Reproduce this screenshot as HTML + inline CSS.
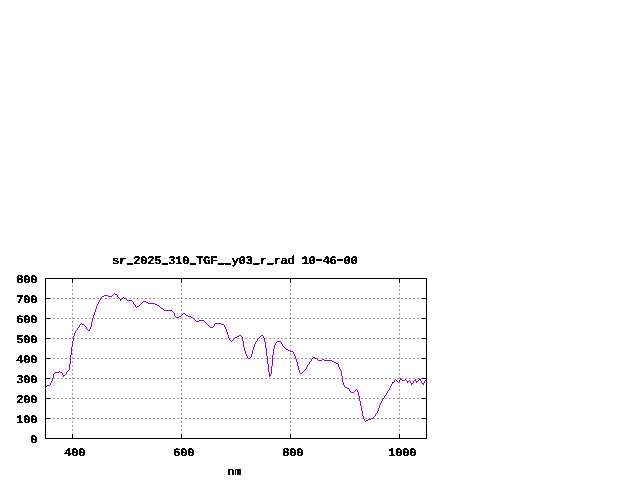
<!DOCTYPE html><html><head><meta charset="utf-8"><style>html,body{margin:0;padding:0;background:#fff;width:640px;height:480px;overflow:hidden}svg{display:block}text{font-family:"Liberation Mono",monospace;font-weight:bold;font-size:13px;letter-spacing:-0.800px;fill:#000;stroke:#000;stroke-width:0px;text-rendering:geometricPrecision}.u{stroke-width:1.7px;font-size:8.0px;letter-spacing:2.2px}.h{stroke-width:1.4px}</style></head><body>
<svg width="640" height="480" viewBox="0 0 640 480">
<rect width="640" height="480" fill="#fff"/>
<g stroke="#a0a0a0" stroke-width="1" stroke-dasharray="2 2" shape-rendering="crispEdges"><line x1="45" y1="298.5" x2="427" y2="298.5"/><line x1="45" y1="318.5" x2="427" y2="318.5"/><line x1="45" y1="338.5" x2="427" y2="338.5"/><line x1="45" y1="358.5" x2="427" y2="358.5"/><line x1="45" y1="378.5" x2="427" y2="378.5"/><line x1="45" y1="398.5" x2="427" y2="398.5"/><line x1="45" y1="418.5" x2="427" y2="418.5"/><line x1="72.5" y1="439" x2="72.5" y2="278"/><line x1="181.5" y1="439" x2="181.5" y2="278"/><line x1="290.5" y1="439" x2="290.5" y2="278"/><line x1="399.5" y1="439" x2="399.5" y2="278"/></g>
<g stroke="#000" stroke-width="1" shape-rendering="crispEdges"><rect x="45.5" y="278.5" width="381" height="160" fill="none"/><path d="M45 278.5H50M422 278.5H427"/><path d="M45 298.5H50M422 298.5H427"/><path d="M45 318.5H50M422 318.5H427"/><path d="M45 338.5H50M422 338.5H427"/><path d="M45 358.5H50M422 358.5H427"/><path d="M45 378.5H50M422 378.5H427"/><path d="M45 398.5H50M422 398.5H427"/><path d="M45 418.5H50M422 418.5H427"/><path d="M45 438.5H50M422 438.5H427"/><path d="M72.5 439V434M72.5 278V283"/><path d="M181.5 439V434M181.5 278V283"/><path d="M290.5 439V434M290.5 278V283"/><path d="M399.5 439V434M399.5 278V283"/></g>
<path d="M46 386h1v1h-1zM47 385h3v1h-3zM50 383h1v2h-1zM51 381h1v2h-1zM52 378h1v3h-1zM53 374h1v4h-1zM54 373h1v1h-1zM55 372h4v1h-4zM59 371h1v1h-1zM60 372h2v1h-2zM62 373h1v2h-1zM63 375h1v2h-1zM64 375h1v1h-1zM65 374h1v1h-1zM66 372h1v2h-1zM67 371h1v1h-1zM68 370h1v1h-1zM69 364h1v6h-1zM70 355h1v9h-1zM71 347h1v8h-1zM72 341h1v6h-1zM73 336h1v5h-1zM74 333h1v3h-1zM75 331h1v2h-1zM76 330h1v1h-1zM77 328h1v2h-1zM78 327h1v1h-1zM79 325h1v2h-1zM80 324h1v1h-1zM81 323h1v1h-1zM82 324h2v1h-2zM84 325h1v1h-1zM85 326h1v1h-1zM86 327h1v2h-1zM87 329h1v1h-1zM88 330h1v1h-1zM89 329h1v2h-1zM90 327h1v2h-1zM91 322h1v5h-1zM92 318h1v4h-1zM93 315h1v3h-1zM94 312h1v3h-1zM95 309h1v3h-1zM96 306h1v3h-1zM97 304h1v2h-1zM98 302h1v2h-1zM99 300h1v2h-1zM100 298h1v2h-1zM101 297h1v1h-1zM102 296h2v1h-2zM104 295h4v1h-4zM108 296h4v1h-4zM112 295h1v1h-1zM113 294h1v1h-1zM114 293h1v1h-1zM115 294h2v1h-2zM117 295h1v2h-1zM118 297h1v1h-1zM119 298h1v1h-1zM120 299h1v2h-1zM121 299h1v1h-1zM122 298h1v1h-1zM123 297h1v1h-1zM124 298h2v1h-2zM126 299h1v1h-1zM127 300h5v1h-5zM132 301h1v1h-1zM133 302h1v2h-1zM134 304h1v1h-1zM135 305h1v2h-1zM136 307h1v1h-1zM137 306h2v1h-2zM139 305h1v1h-1zM140 304h1v1h-1zM141 303h1v1h-1zM142 302h1v1h-1zM143 301h3v1h-3zM146 302h2v1h-2zM148 303h7v1h-7zM155 304h2v1h-2zM157 305h2v1h-2zM159 306h1v1h-1zM160 307h1v1h-1zM161 308h2v1h-2zM163 309h1v1h-1zM164 310h8v1h-8zM172 311h1v1h-1zM173 312h1v1h-1zM174 313h1v3h-1zM175 316h1v1h-1zM176 317h3v1h-3zM179 316h2v1h-2zM181 315h1v1h-1zM182 314h1v1h-1zM183 313h2v1h-2zM185 314h1v1h-1zM186 315h2v1h-2zM188 316h3v1h-3zM191 317h2v1h-2zM193 318h1v1h-1zM194 319h1v1h-1zM195 320h1v1h-1zM196 321h3v1h-3zM199 320h5v1h-5zM204 321h1v1h-1zM205 322h1v1h-1zM206 323h1v1h-1zM207 324h1v1h-1zM208 325h1v1h-1zM209 326h1v1h-1zM210 327h3v1h-3zM213 326h1v1h-1zM214 324h1v2h-1zM215 323h6v1h-6zM221 324h3v1h-3zM224 325h1v2h-1zM225 327h1v2h-1zM226 329h1v3h-1zM227 332h1v3h-1zM228 335h1v3h-1zM229 338h1v2h-1zM230 340h1v1h-1zM231 341h1v1h-1zM232 340h1v1h-1zM233 339h1v1h-1zM234 338h1v1h-1zM235 337h2v1h-2zM237 336h2v1h-2zM239 335h2v1h-2zM241 336h1v1h-1zM242 337h1v4h-1zM243 341h1v6h-1zM244 347h1v4h-1zM245 351h1v3h-1zM246 354h1v2h-1zM247 356h1v2h-1zM248 358h2v1h-2zM250 357h1v1h-1zM251 354h1v3h-1zM252 350h1v4h-1zM253 347h1v3h-1zM254 344h1v3h-1zM255 342h1v2h-1zM256 341h1v1h-1zM257 339h1v2h-1zM258 338h1v1h-1zM259 337h1v1h-1zM260 336h1v1h-1zM261 335h2v1h-2zM263 336h1v2h-1zM264 338h1v4h-1zM265 342h1v6h-1zM266 348h1v8h-1zM267 356h1v8h-1zM268 364h1v8h-1zM269 372h1v5h-1zM270 374h1v2h-1zM271 366h1v8h-1zM272 355h1v11h-1zM273 349h1v6h-1zM274 345h1v4h-1zM275 343h1v2h-1zM276 342h1v1h-1zM277 341h4v1h-4zM281 342h1v2h-1zM282 344h1v2h-1zM283 346h1v1h-1zM284 347h1v1h-1zM285 348h1v1h-1zM286 349h2v1h-2zM288 350h2v1h-2zM290 351h3v1h-3zM293 352h1v2h-1zM294 354h1v2h-1zM295 356h1v3h-1zM296 359h1v3h-1zM297 362h1v4h-1zM298 366h1v4h-1zM299 370h1v3h-1zM300 373h2v1h-2zM302 372h1v1h-1zM303 371h1v1h-1zM304 370h1v1h-1zM305 369h1v1h-1zM306 367h1v2h-1zM307 365h1v2h-1zM308 364h1v1h-1zM309 362h1v2h-1zM310 361h1v1h-1zM311 359h1v2h-1zM312 358h1v1h-1zM313 357h2v1h-2zM315 358h2v1h-2zM317 359h1v1h-1zM318 360h4v1h-4zM322 359h2v1h-2zM324 360h8v1h-8zM332 361h2v1h-2zM334 362h2v1h-2zM336 363h2v1h-2zM338 364h1v3h-1zM339 367h1v2h-1zM340 369h1v2h-1zM341 371h1v5h-1zM342 376h1v6h-1zM343 382h1v3h-1zM344 385h1v2h-1zM345 387h2v1h-2zM347 388h2v1h-2zM349 389h1v2h-1zM350 391h1v1h-1zM351 392h3v1h-3zM354 391h1v1h-1zM355 390h1v1h-1zM356 389h1v1h-1zM357 390h1v2h-1zM358 392h1v4h-1zM359 396h1v5h-1zM360 401h1v5h-1zM361 406h1v5h-1zM362 411h1v5h-1zM363 416h1v3h-1zM364 419h1v2h-1zM365 421h1v1h-1zM366 420h2v1h-2zM368 419h3v1h-3zM371 418h2v1h-2zM373 417h1v1h-1zM374 416h1v1h-1zM375 414h1v2h-1zM376 413h1v1h-1zM377 411h1v2h-1zM378 408h1v3h-1zM379 405h1v3h-1zM380 403h1v2h-1zM381 401h1v2h-1zM382 399h1v2h-1zM383 398h1v1h-1zM384 396h1v2h-1zM385 395h1v1h-1zM386 393h1v2h-1zM387 391h1v2h-1zM388 390h1v1h-1zM389 388h1v2h-1zM390 386h1v2h-1zM391 384h1v2h-1zM392 382h1v2h-1zM393 382h1v1h-1zM394 380h1v2h-1zM395 379h1v1h-1zM396 380h1v1h-1zM397 381h1v1h-1zM398 382h1v1h-1zM399 380h1v2h-1zM400 378h1v2h-1zM401 379h1v1h-1zM402 380h3v1h-3zM405 379h1v1h-1zM406 380h1v1h-1zM407 381h1v2h-1zM408 381h1v1h-1zM409 380h1v1h-1zM410 381h1v2h-1zM411 383h1v2h-1zM412 383h1v1h-1zM413 381h1v2h-1zM414 380h1v1h-1zM415 379h1v2h-1zM416 381h1v2h-1zM417 381h1v1h-1zM418 380h1v1h-1zM419 378h1v2h-1zM420 379h1v2h-1zM421 381h1v2h-1zM422 383h1v1h-1zM423 383h1v2h-1zM424 381h1v2h-1zM425 380h1v1h-1z" fill="#9400d3" shape-rendering="crispEdges"/>
<filter id="cr" x="0" y="0" width="640" height="480" filterUnits="userSpaceOnUse" color-interpolation-filters="sRGB"><feComponentTransfer><feFuncA type="linear" slope="20" intercept="-7"/></feComponentTransfer></filter>
<g filter="url(#cr)"><text transform="translate(112 264) scale(1 0.9)">sr<tspan class="u" dx="1.5" dy="-0.67">_</tspan><tspan dx="-1.5" dy="0.67">2025</tspan><tspan class="u" dx="1.5" dy="-0.67">_</tspan><tspan dx="-1.5" dy="0.67">310</tspan><tspan class="u" dx="1.5" dy="-0.67">_</tspan><tspan dx="-1.5" dy="0.67">TGF</tspan><tspan class="u" dx="1.5" dy="-0.67">__</tspan><tspan dx="-1.5" dy="0.67">y03</tspan><tspan class="u" dx="1.5" dy="-0.67">_</tspan><tspan dx="-1.5" dy="0.67">r</tspan><tspan class="u" dx="1.5" dy="-0.67">_</tspan><tspan dx="-1.5" dy="0.67">rad 10</tspan><tspan class="h" dx="0" dy="-0.7">-</tspan><tspan dx="0" dy="0.7">46</tspan><tspan class="h" dx="0" dy="-0.7">-</tspan><tspan dx="0" dy="0.7">00</tspan></text><text transform="translate(16 283) scale(1 0.9)">800</text><text transform="translate(16 303) scale(1 0.9)">700</text><text transform="translate(16 323) scale(1 0.9)">600</text><text transform="translate(16 343) scale(1 0.9)">500</text><text transform="translate(16 363) scale(1 0.9)">400</text><text transform="translate(16 383) scale(1 0.9)">300</text><text transform="translate(16 403) scale(1 0.9)">200</text><text transform="translate(16 423) scale(1 0.9)">100</text><text transform="translate(30 443) scale(1 0.9)">0</text><text transform="translate(64 456) scale(1 0.9)">400</text><text transform="translate(173 456) scale(1 0.9)">600</text><text transform="translate(282 456) scale(1 0.9)">800</text><text transform="translate(388 456) scale(1 0.9)">1000</text><text transform="translate(227.2 475) scale(0.91 0.9)" style="letter-spacing:0">nm</text></g>
</svg></body></html>
